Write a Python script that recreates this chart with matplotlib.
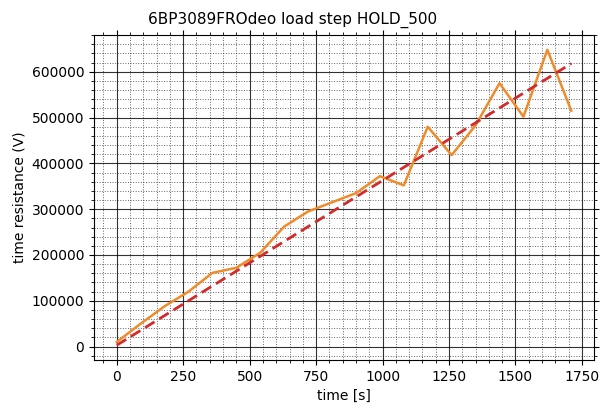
#!/usr/bin/env python3
"""Load step HOLD_500: measured value over time with linear fit."""

import matplotlib
matplotlib.use("Agg")
import matplotlib.pyplot as plt
import matplotlib.ticker as mticker

TITLE = "6BP3089FROdeo load step HOLD_500"

# measured samples (every 90 s)
time_s = [0, 90, 180, 270, 360, 450, 540, 630, 720, 810,
          900, 990, 1080, 1170, 1260, 1350, 1440, 1530, 1620, 1710]
value = [10000, 50000, 88000, 120000, 161000, 172000, 205000, 262000, 295000, 315000,
         335000, 372000, 352000, 480000, 418000, 483000, 575000, 502000, 648000, 515000]

# linear fit end points
fit_time = [0, 1710]
fit_value = [3000, 618000]

ORANGE = "#ee8c2c"
RED = "#d22b2b"


def main():
    fig = plt.figure(figsize=(6.12, 4.09), dpi=100)
    ax = fig.add_subplot(111)
    fig.subplots_adjust(left=94 / 612, right=594 / 612, top=1 - 35 / 409, bottom=1 - 360 / 409)

    ax.plot(time_s, value, color=ORANGE, linewidth=1.8)
    ax.plot(fit_time, fit_value, color=RED, linewidth=2, linestyle="--", dashes=(4, 2))

    ax.xaxis.set_major_locator(mticker.MultipleLocator(250))
    ax.xaxis.set_minor_locator(mticker.MultipleLocator(50))
    ax.yaxis.set_major_locator(mticker.MultipleLocator(100000))
    ax.yaxis.set_minor_locator(mticker.MultipleLocator(20000))

    ax.grid(True, which="major", color="black", linewidth=0.8, alpha=0.8)
    ax.grid(True, which="minor", color="black", linestyle=":", linewidth=0.7, alpha=0.6)
    ax.tick_params(which="both", direction="out", top=True, right=True, labelsize=10)

    ax.set_xlabel("time [s]", fontsize=10)
    ax.set_ylabel("time resistance (V)", fontsize=10)
    fig.text(293 / 612, 1 - 20 / 409, TITLE, ha="center", va="center", fontsize=11)

    fig.savefig("out.png", dpi=100)


if __name__ == "__main__":
    main()
